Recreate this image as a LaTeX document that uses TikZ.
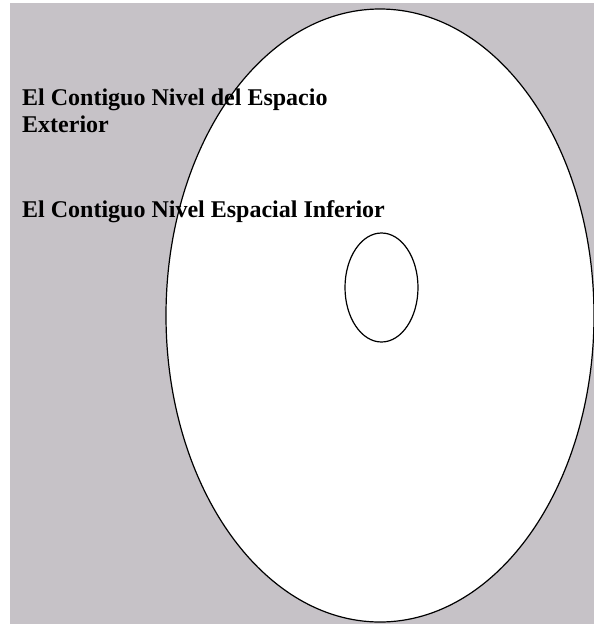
\documentclass[tikz,border=0pt]{standalone}
\usepackage{fontspec}
\setmainfont{Liberation Serif}
\usepackage{xcolor}
\usetikzlibrary{positioning}
\definecolor{bgc}{RGB}{198,194,199}

\begin{document}
\begin{tikzpicture}[x=1pt,y=-1pt,font=\bfseries\fontsize{24}{27}\selectfont]
\tikzstyle{lbl}=[anchor=north west,inner sep=0pt,align=left]
\useasboundingbox (0,0) rectangle (594,625);
\fill[bgc] (10,3) rectangle (594,624);
% outer and inner levels
\draw[fill=white,line width=1.2pt] (380,315.5) ellipse (214 and 306.5);
\draw[line width=1.2pt] (381.5,287.5) ellipse (36.5 and 54.5);
\node[lbl] (ext) at (22,88.5) {El Contiguo Nivel del Espacio\\Exterior};
\node[lbl] (inf) at (22,200.5) {El Contiguo Nivel Espacial Inferior};
\end{tikzpicture}
\end{document}
